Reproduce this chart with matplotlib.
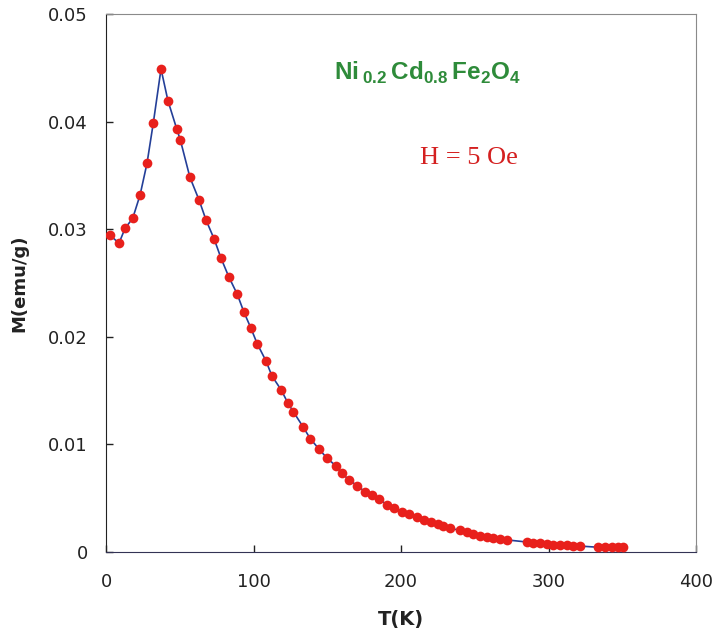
import numpy as np
import matplotlib.pyplot as plt

# M(T) data
temp_k = [2.7, 8.8, 12.9, 18.1, 23.1, 27.8, 32.1, 37.3, 42.0, 47.9,
          50.4, 56.9, 63.1, 67.8, 73.4, 78.0, 83.2, 89.0, 93.4, 98.1,
          102.6, 108.5, 112.5, 118.8, 123.4, 127.0, 133.8, 138.5, 144.2, 149.6,
          155.9, 160.0, 164.9, 170.4, 175.6, 180.1, 185.1, 190.7, 195.3, 200.5,
          205.6, 210.6, 215.6, 220.3, 225.3, 228.7, 233.2, 240.0, 244.5, 249.0,
          253.6, 258.1, 262.6, 267.1, 272.1, 285.2, 289.7, 294.2, 298.8, 303.3,
          307.8, 312.3, 316.8, 321.4, 333.8, 338.3, 342.8, 347.3, 350.7]
moment = [0.02946, 0.02869, 0.03008, 0.03101, 0.03318, 0.03612, 0.0399, 0.04489, 0.04194, 0.03934,
          0.03829, 0.03482, 0.03271, 0.03086, 0.02906, 0.0273, 0.02559, 0.02395, 0.02233, 0.02085,
          0.01933, 0.01775, 0.01636, 0.01506, 0.01382, 0.01304, 0.01159, 0.01053, 0.0096, 0.00876,
          0.00799, 0.0073, 0.00669, 0.00616, 0.0056, 0.0053, 0.0049, 0.0044, 0.00412, 0.00374,
          0.0035, 0.00323, 0.00297, 0.00276, 0.00257, 0.0024, 0.00222, 0.002, 0.00182, 0.00165,
          0.00151, 0.00139, 0.00128, 0.00121, 0.00112, 0.00093, 0.00086, 0.00081, 0.00074, 0.00068,
          0.00066, 0.00062, 0.00057, 0.00055, 0.00044, 0.00044, 0.00044, 0.00044, 0.00044]

x_ticks = [0, 100, 200, 300, 400]
y_ticks = [0, 0.01, 0.02, 0.03, 0.04, 0.05]
y_tick_labels = ['0', '0.01', '0.02', '0.03', '0.04', '0.05']

plt.rcParams['mathtext.fontset'] = 'custom'
plt.rcParams['mathtext.bf'] = 'Liberation Sans:bold'
plt.rcParams['mathtext.rm'] = 'Liberation Sans'

fig = plt.figure(figsize=(7.2, 6.34), dpi=100)
ax = fig.add_axes([106 / 720, 82 / 634, 590 / 720, 538 / 634])

ax.plot(temp_k, moment, '-', color='#243f98', lw=1.2, zorder=2)
ax.plot(temp_k, moment, 'o', color='#e8201c', ms=7, mec='none', zorder=3)

ax.set_xlim(0, 400)
ax.set_ylim(0, 0.05)
ax.set_xticks(x_ticks)
ax.set_yticks(y_ticks)
ax.set_yticklabels(y_tick_labels)
ax.tick_params(direction='in', length=5, width=1, labelsize=13, colors='#222222')
ax.tick_params(axis='y', pad=13)
ax.tick_params(axis='x', pad=15)

ax.spines['left'].set_color('#222222')
ax.spines['bottom'].set_color('#333355')
ax.spines['top'].set_color('#8a8a8a')
ax.spines['right'].set_color('#8a8a8a')

ax.set_xlabel('T(K)', fontsize=14, fontweight='bold', color='#222222')
ax.set_ylabel('M(emu/g)', fontsize=13, fontweight='bold', color='#222222')
ax.yaxis.set_label_coords(-0.132, 0.5)
ax.xaxis.set_label_coords(0.5, -0.108)

ax.text(218, 0.0445, r'$\mathbf{Ni}\,_{\mathbf{0.2}}\,\mathbf{Cd}_{\mathbf{0.8}}\,\mathbf{Fe}_{\mathbf{2}}\mathbf{O}_{\mathbf{4}}$',
        color='#2e8b3a', fontsize=17.5, ha='center', va='center')
ax.text(246, 0.0366, 'H = 5 Oe', color='#d42020', fontsize=19,
        family='Liberation Serif', ha='center', va='center')

plt.savefig('out.png', dpi=100)
